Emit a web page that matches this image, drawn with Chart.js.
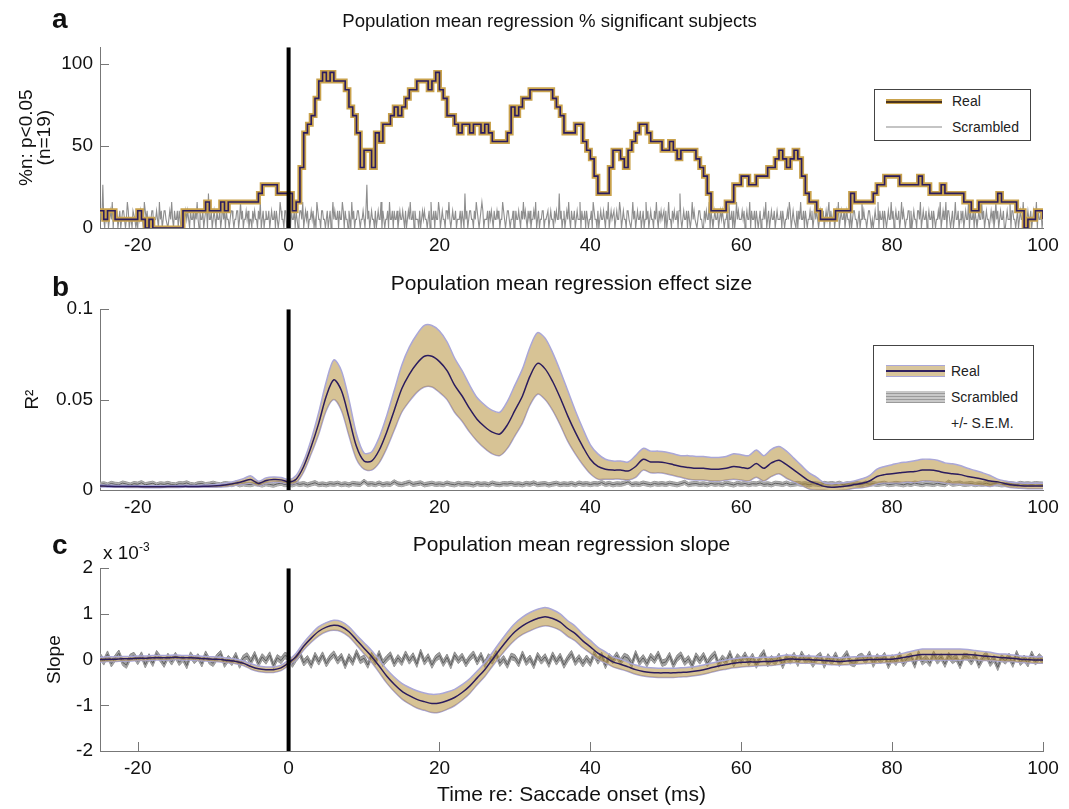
<!DOCTYPE html>
<html>
<head>
<meta charset="utf-8">
<script src="https://cdn.jsdelivr.net/npm/chart.js@4.4.0/dist/chart.umd.min.js"></script>
<style>
body { margin: 0; background: #fff; font-family: "Liberation Sans", Arial, Helvetica, sans-serif; }
#fig { position: relative; width: 1069px; height: 809px; overflow: hidden; }
canvas { position: absolute; left: 0; }
.letter { position: absolute; font-weight: bold; font-size: 28px; line-height: 28px; color: #111; }
.mult { position: absolute; font-size: 19px; line-height: 19px; color: #111; }
.mult sup { font-size: 12px; vertical-align: 8px; }
.legend { position: absolute; border: 1px solid #444; background: #fff; }
.legend .lab { position: absolute; font-size: 14px; line-height: 16px; color: #222; white-space: nowrap; }
.legend .samp { position: absolute; }
</style>
</head>
<body>
<div id="fig">
  <canvas id="panelA" width="1069" height="262" style="top:0px"></canvas>
  <canvas id="panelB" width="1069" height="262" style="top:262px"></canvas>
  <canvas id="panelC" width="1069" height="285" style="top:524px"></canvas>

  <div class="letter" style="left:52px;top:5px">a</div>
  <div class="letter" style="left:52px;top:273px">b</div>
  <div class="letter" style="left:52px;top:531px">c</div>
  <div class="mult" style="left:103px;top:538px">x 10<sup>-3</sup></div>

  <div class="legend" style="left:874px;top:89px;width:155px;height:50px">
    <div class="samp" style="left:11px;top:9px;width:56px;height:5px;background:#c9a24c">
      <div style="margin-top:1.5px;height:2px;background:#4b3420"></div>
    </div>
    <span class="lab" style="left:77px;top:3px">Real</span>
    <div class="samp" style="left:11px;top:36px;width:56px;height:2px;background:#c4c4c4"></div>
    <span class="lab" style="left:77px;top:29px">Scrambled</span>
  </div>

  <div class="legend" style="left:873px;top:345px;width:159px;height:93px">
    <div class="samp" style="left:12px;top:19px;width:59px;height:10px;background:#d8c59b;border-top:1px solid #aaa7d8;border-bottom:1px solid #aaa7d8">
      <div style="margin-top:4px;height:2px;background:#2f2060"></div>
    </div>
    <span class="lab" style="left:77px;top:17px">Real</span>
    <div class="samp" style="left:12px;top:45px;width:59px;height:12px;background:repeating-linear-gradient(#c8c8c8 0px,#c8c8c8 2px,#9a9a9a 2px,#9a9a9a 3px)"></div>
    <span class="lab" style="left:77px;top:43px">Scrambled</span>
    <span class="lab" style="left:77px;top:69px">+/- S.E.M.</span>
  </div>
</div>

<script>
// time axis (ms re: saccade onset)
var t0 = -25;
var stepA = 0.5;      // real % significant curve
var stepScr = 0.125;  // scrambled % significant curve
var stepNoise = 0.5;  // scrambled effect size / slope
var stepSmooth = 1;   // real mean and s.e.m. curves

var xTicks = [-20, 0, 20, 40, 60, 80, 100];
var yTicksA = [0, 50, 100];
var yTicksB = [0, 0.05, 0.1];
var yTicksC = [-2, -1, 0, 1, 2];

// panel a: number of subjects (of 19) with p<0.05
var nSubjects = 19;
var sigReal = [
  2,1,2,2,1,1,1,1,1,1,
  2,1,0,1,0,0,0,0,0,0,
  0,0,2,2,2,2,2,2,3,2,
  2,2,3,2,3,3,3,3,3,3,
  3,3,4,5,5,5,5,4,4,4,
  4,2,3,7,11,12,13,15,17,18,
  17,18,17,17,17,16,14,13,11,7,
  9,9,7,11,10,12,12,13,14,13,
  14,15,16,16,17,17,17,16,17,18,
  16,15,13,13,12,11,12,12,11,12,
  12,11,12,11,10,10,10,10,11,14,
  13,14,15,15,16,16,16,16,16,16,
  15,14,13,11,11,11,12,12,10,9,
  8,6,4,4,4,7,9,9,8,7,
  9,10,11,12,12,11,10,10,10,9,
  9,10,9,8,9,9,9,9,8,7,
  6,4,2,2,2,2,3,3,5,5,
  6,6,5,5,6,6,6,7,7,8,
  9,8,7,8,9,8,6,4,3,3,
  2,1,1,1,1,2,2,2,2,4,
  3,3,3,3,3,4,5,5,6,6,
  6,6,5,5,5,5,5,6,5,5,
  4,4,4,5,4,4,4,4,4,3,
  3,2,2,3,3,3,3,3,4,3,
  3,3,3,2,2,0,1,1,2,2,
  1
];
// scrambled counts, one digit per 0.125 ms (each string = 2.5 ms)
var sigScrambled = [
  '2115 1021 2012 1302 1120', '1201 2210 1320 1102 2101', '0212 1103 2120 1012 2011', '2103 1201 2211 0121 3102',
  '1120 2101 2012 1210 2112', '0213 1021 1201 2204 1120', '1210 2112 0131 2021 1012', '2101 1220 1312 0112 1201',
  '1021 2110 2130 1201 2112', '0121 1202 1013 2110 2201', '1302 1120 2101 2213 0121', '2011 2120 1032 1102 2110',
  '1201 2013 1211 2021 1320', '2110 2103 1201 1221 0112', '1025 1201 2110 2012 1130', '2101 1203 1120 2112 0121',
  '1210 2012 1311 2021 1102', '0121 2110 1203 1120 2113', '2012 1102 2131 0121 1201', '1120 2104 1201 2211 0213',
  '2101 1320 1112 0212 1021', '1212 0113 2101 2210 1120', '0211 2102 1312 1021 2011', '2130 1201 1220 1112 0121',
  '1021 2114 1201 2012 1310', '2112 0121 1302 1120 2101', '1203 2110 2012 1121 0213', '0121 1201 2113 2012 1102',
  '2110 1312 0121 1201 2013', '1201 2110 2131 0212 1120', '2013 1102 1211 2024 1012', '1120 2101 3121 1012 2110',
  '0212 1130 2101 2112 0121', '2101 1203 1120 2013 1211', '1212 0121 1302 1120 2101', '2011 2130 1201 2112 0121',
  '1120 2101 1213 2012 1102', '0213 1120 2101 1212 0131', '2101 2112 0121 1302 1120', '1213 0121 1201 2110 2012',
  '2110 1201 3121 1012 2101', '0121 1302 1120 2101 2113', '1201 2112 0131 2101 1220', '2012 1102 2130 1211 2012',
  '1120 2101 1213 0121 1302', '2101 2013 1120 1212 0121', '1302 1120 2101 2113 1201', '2110 1212 0131 2012 1120',
  '0121 1302 2110 1201 2113', '1201 2112 0121 1302 1120', '1'
].join('').replace(/\s/g, '').split('').map(Number);

// panel b: R^2 mean and s.e.m. (1 ms)
var r2Mean = [
  0.0022,0.0021,0.002,0.002,0.0019,0.0019,0.0018,0.0018,0.0018,0.0019,
  0.0019,0.002,0.002,0.002,0.0021,0.0022,0.0025,0.003,0.0038,0.0048,
  0.0058,0.0036,0.0052,0.0058,0.0056,0.0045,0.006,0.013,0.024,0.037,
  0.052,0.061,0.055,0.04,0.024,0.016,0.016,0.022,0.032,0.044,
  0.056,0.064,0.07,0.074,0.074,0.071,0.066,0.058,0.052,0.045,
  0.039,0.035,0.032,0.031,0.036,0.044,0.052,0.063,0.07,0.067,
  0.06,0.051,0.041,0.032,0.024,0.017,0.013,0.0115,0.011,0.011,
  0.0105,0.013,0.017,0.0155,0.0155,0.015,0.014,0.013,0.0125,0.012,
  0.012,0.0115,0.0115,0.012,0.013,0.0125,0.012,0.0146,0.012,0.015,
  0.0165,0.014,0.011,0.008,0.005,0.0035,0.002,0.0015,0.0018,0.0022,
  0.003,0.0037,0.005,0.0075,0.0085,0.009,0.0095,0.01,0.0102,0.011,
  0.011,0.0105,0.0095,0.009,0.0085,0.0075,0.0068,0.006,0.005,0.0045,
  0.0035,0.0027,0.0024,0.0022,0.0022,0.0022
];
var r2Sem = [
  0.0005,0.0005,0.0005,0.0005,0.0005,0.0005,0.0005,0.0005,0.0005,0.0005,
  0.0005,0.0005,0.0005,0.0005,0.0006,0.0007,0.0008,0.001,0.0012,0.0015,
  0.002,0.0012,0.0015,0.0014,0.0013,0.0012,0.002,0.003,0.004,0.006,
  0.008,0.011,0.011,0.01,0.007,0.0045,0.005,0.007,0.009,0.011,
  0.013,0.015,0.016,0.017,0.017,0.017,0.016,0.015,0.014,0.013,
  0.012,0.012,0.012,0.012,0.013,0.014,0.015,0.016,0.017,0.017,
  0.016,0.015,0.014,0.012,0.01,0.008,0.007,0.0055,0.005,0.005,
  0.005,0.006,0.006,0.006,0.006,0.006,0.006,0.006,0.0065,0.0065,
  0.0065,0.0065,0.0065,0.0065,0.007,0.007,0.007,0.0075,0.007,0.0075,
  0.0075,0.0075,0.0065,0.0055,0.0045,0.0035,0.002,0.002,0.002,0.002,
  0.002,0.0025,0.003,0.004,0.0045,0.005,0.0055,0.0055,0.006,0.006,
  0.006,0.006,0.0055,0.0055,0.005,0.0045,0.004,0.0035,0.003,0.0015,
  0.0015,0.0015,0.0015,0.0015,0.0015,0.0015
];
// scrambled R^2 mean, in units of 1e-4 (0.5 ms)
var r2Scrambled = [
  30,34,28,36,31,29,38,33,27,35, 32,40,29,33,37,28,34,31,36,30,
  28,35,33,39,30,27,34,36,29,32, 37,31,28,35,33,30,38,29,34,31,
  30,36,33,28,35,31,27,34,38,30, 33,29,36,31,35,28,34,40,30,33,
  29,35,32,37,30,34,28,36,33,31, 48,32,35,30,38,29,34,31,45,33,
  30,36,42,31,35,39,29,33,37,31, 34,30,38,32,29,36,31,35,33,28,
  36,31,34,29,38,32,30,35,33,37, 31,34,29,36,32,39,30,33,35,28,
  33,37,30,34,31,36,29,38,32,35, 30,35,33,41,31,36,29,34,32,37,
  45,30,34,31,38,33,29,36,32,35, 31,37,33,29,35,42,30,34,36,31,
  34,29,37,32,35,30,38,33,28,36, 32,36,30,35,33,39,31,34,29,37,
  35,31,38,30,33,36,32,34,29,35, 33,30,36,32,35,31,37,29,34,32,
  36,33,30,38,32,35,31,34,37,30, 32,36,33,29,35,31,38,34,30,36,
  34,31,37,33,30,43,32,35,38,31, 33,36,30,34,32,37,31,35,33,29,
  31,35,33,30,36,32,34,31,35,33, 32
];
var r2ScrambledSem = 0.0012;

// panel c: slope mean and s.e.m., x 10^-3 (1 ms)
var slopeMean = [
  0,0.01,0.01,0.02,0.02,0.03,0.03,0.04,0.04,0.04,
  0.05,0.04,0.04,0.03,0.02,0.01,0,-0.02,-0.04,-0.08,
  -0.15,-0.2,-0.22,-0.22,-0.18,-0.07,0.07,0.29,0.47,0.62,
  0.71,0.75,0.72,0.61,0.43,0.25,0.07,-0.14,-0.36,-0.54,
  -0.69,-0.79,-0.87,-0.92,-0.96,-0.95,-0.9,-0.83,-0.72,-0.58,
  -0.4,-0.22,0,0.22,0.43,0.61,0.74,0.83,0.9,0.94,
  0.9,0.82,0.68,0.57,0.41,0.28,0.14,0.05,-0.05,-0.1,
  -0.16,-0.22,-0.26,-0.28,-0.29,-0.29,-0.29,-0.28,-0.27,-0.25,
  -0.22,-0.18,-0.14,-0.11,-0.08,-0.06,-0.05,-0.05,-0.04,-0.04,
  -0.02,0.01,0.01,0,0,-0.01,-0.02,-0.03,-0.04,-0.03,
  -0.02,-0.01,0,0,0.01,0.01,0.03,0.06,0.09,0.11,
  0.11,0.11,0.11,0.11,0.11,0.11,0.1,0.08,0.07,0.05,
  0.04,0.03,0.01,0,-0.01,-0.01
];
var slopeSem = [
  0.05,0.05,0.05,0.05,0.05,0.05,0.05,0.05,0.05,0.05,
  0.05,0.05,0.05,0.05,0.05,0.05,0.05,0.05,0.05,0.05,
  0.06,0.06,0.06,0.06,0.06,0.06,0.07,0.08,0.09,0.1,
  0.1,0.11,0.11,0.11,0.11,0.12,0.13,0.14,0.15,0.16,
  0.17,0.18,0.19,0.19,0.2,0.2,0.19,0.18,0.17,0.16,
  0.15,0.15,0.15,0.16,0.17,0.18,0.19,0.2,0.2,0.2,
  0.19,0.18,0.17,0.16,0.15,0.14,0.13,0.12,0.11,0.11,
  0.1,0.1,0.1,0.1,0.1,0.1,0.1,0.1,0.1,0.1,
  0.1,0.1,0.1,0.1,0.1,0.1,0.1,0.09,0.09,0.09,
  0.09,0.09,0.08,0.08,0.08,0.08,0.08,0.08,0.08,0.08,
  0.08,0.08,0.08,0.08,0.08,0.08,0.09,0.1,0.11,0.12,
  0.12,0.12,0.12,0.12,0.12,0.11,0.1,0.1,0.09,0.08,
  0.08,0.07,0.07,0.07,0.07,0.07
];
// scrambled slope mean, in units of 1e-5 (0.5 ms)
var slopeScrambled = [
  8,-5,12,-9,3,14,-6,-12,5,9, -4,10,-11,6,-8,13,2,-10,7,-5,
  9,-6,3,-13,10,-2,6,-9,12,-3, -8,5,13,-10,2,-6,9,-12,3,8,
  -5,11,-9,6,-3,10,-13,4,-2,9, 6,-10,3,13,-7,2,-12,9,-5,10,
  -9,4,12,-3,7,-13,6,-6,15,-2, 3,-12,9,-5,13,-8,2,10,-9,4,
  -6,12,-3,8,-10,16,-5,6,-12,3, 9,-8,5,-13,10,-2,7,-9,3,12,
  -5,9,-10,6,-3,13,-8,2,-12,7, 4,-9,12,-6,3,-13,9,-3,6,-10,
  10,-5,7,-12,2,13,-6,4,-9,3, -8,12,-3,9,-13,6,-2,10,-5,7,
  3,-10,13,-6,4,-9,7,-2,12,-8, -5,9,-12,3,10,-6,2,-13,8,-3,
  9,-8,4,12,-10,3,-5,13,-9,6, -3,10,-6,7,-12,4,15,-9,2,-5,
  7,-13,6,-3,9,-8,12,-2,4,-10, 3,9,-12,6,-5,10,-8,2,13,-6,
  -9,4,7,-3,12,-10,6,-2,9,-13, 4,-6,10,-9,3,7,-12,13,-5,2,
  -8,12,-3,6,-10,9,-2,4,-13,7, 6,-5,9,-12,3,10,-8,2,-17,4,
  -3,7,-10,13,-6,3,-9,12,-5,6, -2
];
var slopeScrambledSem = 0.07;

var gold = '#c9a24c';
var purple = '#2b1c5e';
var tan = 'rgba(178,140,52,0.52)';
var lavender = '#aaa7d8';

Chart.defaults.font.family = "'Liberation Sans', Arial, Helvetica, sans-serif";
Chart.defaults.color = '#111';

function pts(values, step, k) {
  return values.map(function (v, i) { return { x: t0 + i * step, y: v * (k || 1) }; });
}
function edge(values, sem, step, sign, k) {
  return values.map(function (v, i) {
    var s = Array.isArray(sem) ? sem[i] : sem;
    return { x: t0 + i * step, y: (v * (k || 1)) + sign * s };
  });
}
function zeroLine(lo, hi) {
  return { data: [{ x: 0, y: lo }, { x: 0, y: hi }], borderColor: '#000', borderWidth: 4, pointRadius: 0, order: 0 };
}

// y ticks point into the plot, as in the original figure
var inwardTicks = {
  id: 'inwardTicks',
  beforeDatasetsDraw: function (chart, args, opts) {
    var ctx = chart.ctx, a = chart.chartArea;
    var ys = chart.scales.y, xs = chart.scales.x;
    ctx.save();
    ctx.strokeStyle = '#777';
    ctx.lineWidth = 1;
    ctx.beginPath();
    ys.ticks.forEach(function (t) {
      var y = Math.round(ys.getPixelForValue(t.value)) + 0.5;
      ctx.moveTo(a.left, y); ctx.lineTo(a.left + 9, y);
    });
    if (opts.x) {
      xs.ticks.forEach(function (t) {
        var x = Math.round(xs.getPixelForValue(t.value)) + 0.5;
        ctx.moveTo(x, a.bottom); ctx.lineTo(x, a.bottom - 9);
      });
    }
    ctx.stroke();
    ctx.restore();
  }
};
// nudge a title sideways (panel a title sits left of the axes centre)
var titleShift = {
  id: 'titleShift',
  afterLayout: function (chart, args, opts) {
    if (opts.dx && chart.titleBlock) {
      chart.titleBlock.left += opts.dx;
      chart.titleBlock.right += opts.dx;
    }
  }
};

function xAxis(height, title) {
  return {
    type: 'linear', min: -25, max: 100,
    grid: { display: false, drawTicks: false },
    border: { color: '#777', width: 1 },
    ticks: { font: { size: 19 }, padding: 6, color: '#111', maxRotation: 0, autoSkip: false },
    title: title ? { display: true, text: title, font: { size: 21 }, color: '#111', padding: { top: 0, bottom: 1 } } : { display: false },
    afterBuildTicks: function (s) { s.ticks = xTicks.map(function (v) { return { value: v }; }); },
    afterFit: function (s) { s.height = height; }
  };
}
function yAxis(min, max, ticks, title, pad, lh) {
  return {
    min: min, max: max,
    grid: { display: false, drawTicks: false },
    border: { color: '#777', width: 1 },
    ticks: { font: { size: 19 }, padding: 7, color: '#111', callback: function (v) { return String(v); } },
    title: { display: true, text: title, font: { size: 19, lineHeight: lh }, color: '#111', padding: { top: pad, bottom: 0 } },
    afterBuildTicks: function (s) { s.ticks = ticks.map(function (v) { return { value: v }; }); },
    afterFit: function (s) { s.width = 100; }
  };
}
function options(titleText, titleSize, titlePad, dx, xs, ys, tickX) {
  return {
    responsive: false,
    animation: false,
    events: [],
    layout: { padding: { left: 0, right: 26, top: 0, bottom: 0 } },
    scales: { x: xs, y: ys },
    plugins: {
      legend: { display: false },
      tooltip: { enabled: false },
      title: { display: true, text: titleText, fullSize: false, color: '#111', font: { size: titleSize, weight: 'normal' }, padding: titlePad },
      inwardTicks: { x: tickX },
      titleShift: { dx: dx }
    }
  };
}

// panel a
new Chart(document.getElementById('panelA'), {
  type: 'line',
  data: {
    datasets: [
      zeroLine(0, 110),
      { data: pts(sigReal, stepA, 100 / nSubjects), stepped: true, borderColor: purple, borderWidth: 1.6, pointRadius: 0, order: 1 },
      { data: pts(sigReal, stepA, 100 / nSubjects), stepped: true, borderColor: gold, borderWidth: 5, pointRadius: 0, order: 2 },
      { data: pts(sigScrambled, stepScr, 100 / nSubjects), borderColor: '#8e8e8e', borderWidth: 1.1, pointRadius: 0, order: 3 }
    ]
  },
  options: options('Population mean regression % significant subjects', 18.6, { top: 11, bottom: 14 }, -22,
    xAxis(34), yAxis(0, 110, yTicksA, ['%n: p<0.05', '(n=19)'], 18, 0.95), false),
  plugins: [inwardTicks, titleShift]
});

// panel b
new Chart(document.getElementById('panelB'), {
  type: 'line',
  data: {
    datasets: [
      zeroLine(0, 0.1),
      { data: pts(r2Mean, stepSmooth), borderColor: purple, borderWidth: 1.5, pointRadius: 0, tension: 0.3, order: 1 },
      { data: edge(r2Mean, r2Sem, stepSmooth, 1), borderColor: lavender, borderWidth: 1.5, backgroundColor: tan, fill: '+1', pointRadius: 0, tension: 0.3, order: 2 },
      { data: edge(r2Mean, r2Sem, stepSmooth, -1), borderColor: lavender, borderWidth: 1.5, pointRadius: 0, tension: 0.3, order: 3 },
      { data: pts(r2Scrambled, stepNoise, 1e-4), borderColor: '#5f5f5f', borderWidth: 1, pointRadius: 0, order: 4 },
      { data: edge(r2Scrambled, r2ScrambledSem, stepNoise, 1, 1e-4), borderColor: '#9a9a9a', borderWidth: 1, backgroundColor: '#b0b0b0', fill: '+1', pointRadius: 0, order: 5 },
      { data: edge(r2Scrambled, r2ScrambledSem, stepNoise, -1, 1e-4), borderColor: '#9a9a9a', borderWidth: 1, pointRadius: 0, order: 6 }
    ]
  },
  options: options('Population mean regression effect size', 21, { top: 10, bottom: 12 }, 0,
    xAxis(34), yAxis(0, 0.1, yTicksB, 'R²', 23, 1.05), false),
  plugins: [inwardTicks, titleShift]
});

// panel c
new Chart(document.getElementById('panelC'), {
  type: 'line',
  data: {
    datasets: [
      zeroLine(-2, 2),
      { data: pts(slopeMean, stepSmooth), borderColor: purple, borderWidth: 1.5, pointRadius: 0, tension: 0.3, order: 1 },
      { data: edge(slopeMean, slopeSem, stepSmooth, 1), borderColor: lavender, borderWidth: 1.5, backgroundColor: tan, fill: '+1', pointRadius: 0, tension: 0.3, order: 2 },
      { data: edge(slopeMean, slopeSem, stepSmooth, -1), borderColor: lavender, borderWidth: 1.5, pointRadius: 0, tension: 0.3, order: 3 },
      { data: pts(slopeScrambled, stepNoise, 0.01), borderColor: '#5c5c5c', borderWidth: 1, pointRadius: 0, order: 4 },
      { data: edge(slopeScrambled, slopeScrambledSem, stepNoise, 1, 0.01), borderColor: '#8a8a8a', borderWidth: 1, backgroundColor: '#a2a2a2', fill: '+1', pointRadius: 0, order: 5 },
      { data: edge(slopeScrambled, slopeScrambledSem, stepNoise, -1, 0.01), borderColor: '#8a8a8a', borderWidth: 1, pointRadius: 0, order: 6 }
    ]
  },
  options: options('Population mean regression slope', 21, { top: 9, bottom: 10 }, 0,
    xAxis(58, 'Time re: Saccade onset (ms)'), yAxis(-2, 2, yTicksC, 'Slope', 45, 1.05), true),
  plugins: [inwardTicks, titleShift]
});
</script>
</body>
</html>
